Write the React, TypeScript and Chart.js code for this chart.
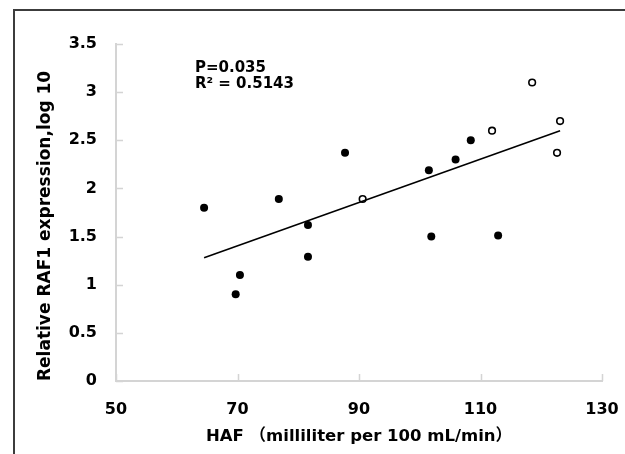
import React, { useEffect, useRef } from 'react';
import { Chart, registerables } from 'chart.js';
Chart.register(...registerables);

// Filled points (black)
const filledX = [64.5, 70.4, 69.7, 76.8, 81.6, 81.6, 87.7, 101.5, 101.9, 105.9, 108.4, 112.9];
const filledY = [1.80, 1.10, 0.90, 1.89, 1.62, 1.29, 2.37, 2.19, 1.50, 2.30, 2.50, 1.51];
// Open points (hollow)
const openX = [90.6, 111.9, 118.5, 123.1, 122.6];
const openY = [1.89, 2.60, 3.10, 2.70, 2.37];
// Linear trend line end points
const trendX = [64.5, 123.1];
const trendY = [1.28, 2.60];
// Axis ticks
const xTickValues = [50, 70, 90, 110, 130];
const yTickValues = [0, 0.5, 1, 1.5, 2, 2.5, 3, 3.5];
// Texts
const pText = 'P=0.035';
const r2Text = 'R² = 0.5143';
const xTitle = 'HAF （milliliter per 100 mL/min）';
const yTitle = 'Relative RAF1 expression,log 10';

const FONT = '"DejaVu Sans", "Noto Sans CJK SC", sans-serif';
const AXIS_GRAY = '#d4d4d4';
const TICK_LEN = 7;

const framePlugin = {
  id: 'frameAndText',
  beforeDraw(chart: any) {
    const ctx = chart.ctx;
    ctx.save();
    ctx.fillStyle = '#ffffff';
    ctx.fillRect(0, 0, chart.width, chart.height);
    ctx.strokeStyle = '#3c3c3c';
    ctx.lineWidth = 2;
    ctx.beginPath();
    ctx.moveTo(14, chart.height);
    ctx.lineTo(14, 10);
    ctx.lineTo(chart.width, 10);
    ctx.stroke();
    ctx.restore();
  },
  afterDraw(chart: any) {
    const ctx = chart.ctx;
    const xs = chart.scales.x;
    const ys = chart.scales.y;
    const area = chart.chartArea;
    ctx.save();
    // inward tick marks
    ctx.strokeStyle = AXIS_GRAY;
    ctx.lineWidth = 1.5;
    ctx.beginPath();
    xTickValues.forEach((v) => {
      const px = Math.round(xs.getPixelForValue(v)) + 0.5;
      ctx.moveTo(px, area.bottom);
      ctx.lineTo(px, area.bottom - TICK_LEN);
    });
    yTickValues.forEach((v) => {
      const py = Math.round(ys.getPixelForValue(v)) + 0.5;
      ctx.moveTo(area.left, py);
      ctx.lineTo(area.left + TICK_LEN, py);
    });
    ctx.stroke();
    // annotation
    ctx.fillStyle = '#000';
    ctx.font = `bold 15px ${FONT}`;
    ctx.textAlign = 'left';
    ctx.textBaseline = 'middle';
    const x0 = xs.getPixelForValue(63.0);
    ctx.fillText(pText, x0, ys.getPixelForValue(3.25));
    ctx.fillText(r2Text, x0, ys.getPixelForValue(3.08));
    ctx.restore();
  },
};

export default function App() {
  const ref = useRef<HTMLCanvasElement | null>(null);
  useEffect(() => {
    if (!ref.current) return;
    const filled = filledX.map((x, i) => ({ x, y: filledY[i] }));
    const open = openX.map((x, i) => ({ x, y: openY[i] }));
    const trend = trendX.map((x, i) => ({ x, y: trendY[i] }));
    const chart = new Chart(ref.current, {
      type: 'scatter',
      data: {
        datasets: [
          {
            type: 'line',
            data: trend,
            borderColor: '#000',
            borderWidth: 1.6,
            pointRadius: 0,
            showLine: true,
            fill: false,
          } as any,
          {
            data: filled,
            backgroundColor: '#000',
            borderColor: '#000',
            borderWidth: 0,
            pointRadius: 4,
          },
          {
            data: open,
            backgroundColor: '#fff',
            borderColor: '#000',
            borderWidth: 1.6,
            pointRadius: 3.3,
          },
        ],
      },
      options: {
        animation: false,
        responsive: false,
        layout: { padding: { left: 0, top: 44, right: 23, bottom: 0 } },
        plugins: { legend: { display: false }, tooltip: { enabled: false } },
        scales: {
          x: {
            type: 'linear',
            min: 50,
            max: 130,
            afterBuildTicks: (s: any) => {
              s.ticks = xTickValues.map((v) => ({ value: v }));
            },
            afterFit: (s: any) => {
              s.height = 73;
              s.paddingLeft = 0;
              s.paddingRight = 0;
            },
            grid: { drawOnChartArea: false, drawTicks: false },
            border: { display: true, color: AXIS_GRAY, width: 2 },
            ticks: {
              color: '#000',
              padding: 19,
              callback: (v: any) => String(v),
              font: { family: FONT, size: 16, weight: 'bold' },
            },
            title: {
              display: true,
              text: xTitle,
              color: '#000',
              padding: { top: 0, bottom: 7 },
              font: { family: FONT, size: 16.5, weight: 'bold' },
            },
          },
          y: {
            type: 'linear',
            min: 0,
            max: 3.5,
            afterBuildTicks: (s: any) => {
              s.ticks = yTickValues.map((v) => ({ value: v }));
            },
            afterFit: (s: any) => {
              s.width = 116;
              s.paddingTop = 0;
              s.paddingBottom = 0;
            },
            grid: { drawOnChartArea: false, drawTicks: false },
            border: { display: true, color: AXIS_GRAY, width: 2 },
            ticks: {
              color: '#000',
              padding: 19,
              callback: (v: any) => String(v),
              font: { family: FONT, size: 16, weight: 'bold' },
            },
            title: {
              display: true,
              text: yTitle,
              align: 'start',
              color: '#000',
              padding: { top: 35, bottom: 0 },
              font: { family: FONT, size: 17, weight: 'bold' },
            },
          },
        },
      },
      plugins: [framePlugin],
    } as any);
    return () => chart.destroy();
  }, []);
  return (
    <div style={{ position: 'absolute', left: 0, top: 0, width: 625, height: 454 }}>
      <canvas ref={ref} width={625} height={454} style={{ display: 'block', width: 625, height: 454 }} />
    </div>
  );
}
